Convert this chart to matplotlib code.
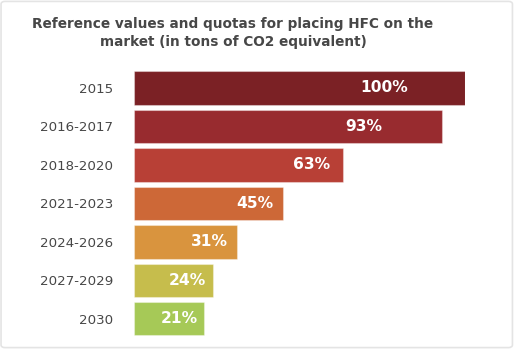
import matplotlib.pyplot as plt
import matplotlib.patches as patches

# Data
periods = ["2015", "2016-2017", "2018-2020", "2021-2023", "2024-2026", "2027-2029", "2030"]
quota_pct = [100, 93, 63, 45, 31, 24, 21]
bar_colors = ["#7b2125", "#982b2f", "#b84036", "#cd6837", "#d9943e", "#c6bd4c", "#a6c957"]

# Layout: right edge of each value label (in % units)
label_right = [82.8, 74.9, 59.2, 42.0, 28.4, 21.8, 19.3]

TEXT_COLOR = "#474747"

fig = plt.figure(figsize=(5.14, 3.49), dpi=100)
fig.patch.set_facecolor("white")

# light frame around the whole picture
fig.patches.append(patches.FancyBboxPatch(
    (0.002, 0.004), 0.995, 0.992, boxstyle="round,pad=0,rounding_size=0.008",
    transform=fig.transFigure, facecolor="none", edgecolor="#e4e4e4",
    linewidth=1.2, zorder=0))

ax = fig.add_axes([134 / 514, 0.031, 331 / 514, 0.772])

y = list(range(len(periods)))
ax.barh(y, quota_pct, height=0.86, color=bar_colors,
        edgecolor=(1, 1, 1, 0.35), linewidth=0.8)

for yi, v, xr in zip(y, quota_pct, label_right):
    ax.text(xr, yi, f"{v}%", ha="right", va="center", color="white",
            fontsize=11.2, fontweight="bold")

ax.set_xlim(0, 100)
ax.set_ylim(len(periods) - 0.5, -0.5)
ax.set_yticks(y)
ax.set_yticklabels(periods, fontsize=9.6, color=TEXT_COLOR)
ax.tick_params(axis="y", length=0, pad=15)
ax.set_xticks([])
for s in ax.spines.values():
    s.set_visible(False)

fig.text(233 / 514, 1 - 33 / 349,
         "Reference values and quotas for placing HFC on the\nmarket (in tons of CO2 equivalent)",
         ha="center", va="center", fontsize=9.8, fontweight="bold",
         color=TEXT_COLOR, linespacing=1.35)

fig.savefig("out.png", dpi=100)
